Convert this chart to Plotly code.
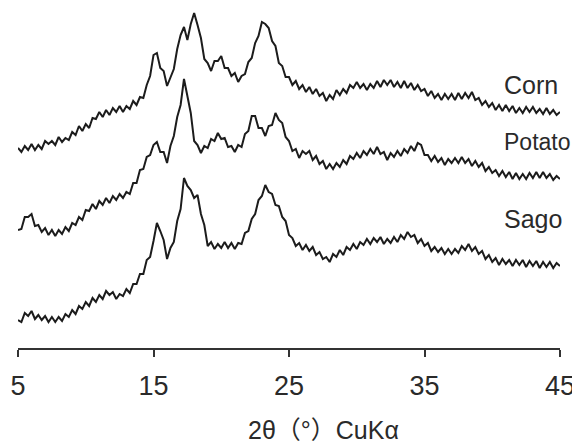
import plotly.graph_objects as go

# 2-theta sampling grid (degrees), 0.25 deg steps from 5 to 45
two_theta = [5 + 0.25 * i for i in range(161)]

# Intensities (arbitrary units, offset-stacked as in the figure)
corn = [
    200, 196, 202, 198, 204, 198, 203, 199,
    207, 204, 207, 203, 211, 206, 210, 208,
    216, 213, 222, 217, 224, 220, 230, 229,
    236, 231, 238, 233, 240, 236, 242, 236,
    242, 239, 247, 243, 251, 250, 263, 272,
    293, 295, 280, 277, 262, 270, 279, 299,
    313, 321, 308, 324, 335, 323, 310, 289,
    285, 277, 287, 287, 292, 280, 280, 272,
    275, 266, 272, 274, 286, 290, 305, 312,
    326, 324, 320, 307, 302, 285, 282, 271,
    271, 263, 267, 259, 263, 256, 261, 254,
    259, 252, 255, 247, 253, 249, 258, 253,
    259, 255, 263, 260, 266, 260, 264, 258,
    264, 260, 267, 261, 268, 263, 268, 261,
    266, 260, 267, 260, 265, 258, 263, 257,
    259, 252, 257, 250, 254, 248, 254, 249,
    254, 248, 255, 249, 255, 250, 256, 248,
    250, 243, 247, 241, 245, 238, 243, 237,
    243, 237, 242, 235, 240, 235, 241, 236,
    241, 235, 239, 234, 240, 234, 238, 233,
    236,
]

potato = [
    118, 119, 131, 131, 134, 122, 123, 116,
    120, 113, 118, 112, 118, 114, 121, 117,
    125, 123, 131, 128, 138, 137, 144, 139,
    147, 143, 150, 145, 152, 148, 154, 150,
    156, 154, 165, 165, 178, 179, 191, 193,
    203, 206, 196, 196, 185, 202, 212, 231,
    243, 269, 252, 235, 207, 203, 195, 202,
    200, 209, 207, 215, 209, 210, 201, 202,
    196, 203, 201, 214, 217, 232, 232, 220,
    220, 212, 222, 223, 235, 228, 225, 211,
    207, 197, 199, 190, 197, 194, 197, 188,
    192, 184, 187, 179, 184, 179, 185, 181,
    188, 184, 192, 189, 195, 190, 197, 193,
    199, 194, 201, 194, 196, 188, 195, 191,
    197, 192, 199, 195, 202, 197, 205, 203,
    193, 193, 187, 192, 186, 190, 183, 189,
    185, 190, 185, 191, 185, 189, 182, 187,
    181, 185, 177, 181, 175, 178, 172, 177,
    171, 176, 169, 175, 169, 174, 169, 175,
    170, 176, 170, 176, 170, 174, 168, 172,
    169,
]

sago = [
    28, 26, 35, 32, 37, 29, 33, 28,
    32, 26, 31, 26, 31, 27, 34, 31,
    38, 34, 42, 39, 46, 42, 50, 46,
    53, 49, 57, 53, 56, 49, 54, 52,
    59, 55, 64, 64, 74, 74, 88, 91,
    107, 125, 117, 108, 89, 100, 106, 127,
    139, 170, 162, 158, 150, 153, 134, 123,
    102, 106, 99, 104, 100, 106, 100, 105,
    99, 105, 104, 115, 117, 129, 134, 148,
    152, 163, 156, 154, 143, 142, 131, 127,
    113, 110, 102, 105, 98, 103, 97, 101,
    93, 96, 89, 91, 86, 94, 91, 98,
    93, 101, 98, 104, 99, 106, 103, 109,
    104, 110, 106, 111, 104, 109, 105, 111,
    106, 113, 109, 116, 111, 113, 105, 109,
    102, 105, 97, 101, 96, 100, 94, 99,
    94, 99, 95, 102, 98, 104, 97, 101,
    94, 97, 89, 93, 86, 90, 83, 89,
    84, 88, 82, 88, 83, 88, 81, 87,
    82, 87, 80, 86, 81, 86, 80, 85,
    82,
]

series_names = ["Corn", "Potato", "Sago"]
label_levels = [263, 206, 129]
label_sizes = [25, 23, 25]
tick_values = [5, 15, 25, 35, 45]
tick_labels = ["5", "15", "25", "35", "45"]
x_title = "2θ（°）CuKα"

FONT = "Liberation Sans, Arial, Noto Sans CJK JP, sans-serif"
LINE = "#1c1c1c"

fig = go.Figure()
for name, vals in zip(series_names, [corn, potato, sago]):
    fig.add_trace(go.Scatter(
        x=two_theta, y=vals, mode="lines", name=name,
        line=dict(color=LINE, width=2), showlegend=False,
        hoverinfo="skip",
    ))

for name, lvl, sz in zip(series_names, label_levels, label_sizes):
    fig.add_annotation(
        x=0.893, xref="paper", y=lvl, yref="y",
        text=name, showarrow=False, xanchor="left", yanchor="middle",
        font=dict(family=FONT, size=sz, color="#2a2a2a"),
    )

fig.add_annotation(
    x=0.563, xref="paper", y=-0.241, yref="paper",
    text=x_title, showarrow=False, xanchor="center", yanchor="middle",
    font=dict(family=FONT, size=25, color="#2a2a2a"),
)

fig.update_layout(
    width=572, height=435,
    margin=dict(l=10, r=20, t=0, b=95),
    paper_bgcolor="white", plot_bgcolor="white",
    xaxis=dict(
        range=[5, 45], tickmode="array", tickvals=tick_values, ticktext=tick_labels,
        ticks="outside", ticklen=7, tickwidth=1.5, tickcolor="#333",
        showline=True, linecolor="#333", linewidth=1.5,
        showgrid=False, zeroline=False,
        tickfont=dict(family=FONT, size=27, color="#2a2a2a"),
        ticklabelstandoff=6,
    ),
    yaxis=dict(range=[0, 340], visible=False, showgrid=False, zeroline=False),
)

fig.write_html("out.html")
